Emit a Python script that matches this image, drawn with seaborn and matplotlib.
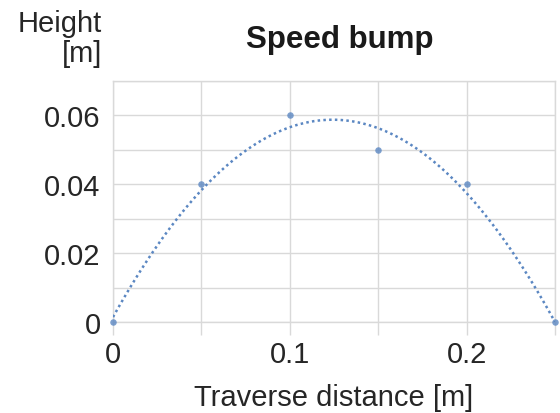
import matplotlib
matplotlib.use("Agg")
import matplotlib.pyplot as plt
import seaborn as sns
import numpy as np
import pandas as pd
from matplotlib.ticker import MultipleLocator, FixedLocator

distance = [0.0, 0.05, 0.10, 0.15, 0.20, 0.25]
height = [0.0, 0.04, 0.06, 0.05, 0.04, 0.0]
x_ticks = [0, 0.1, 0.2]
x_tick_labels = ["0", "0.1", "0.2"]
y_ticks = [0, 0.02, 0.04, 0.06]
y_tick_labels = ["0", "0.02", "0.04", "0.06"]

sns.set_theme(style="white")
plt.rcParams['font.family'] = ['Liberation Sans', 'DejaVu Sans']

df = pd.DataFrame({"distance": distance, "height": height})

fig = plt.figure(figsize=(5.6, 4.14), dpi=100)
ax = fig.add_axes([113/560, 1-323/414, (555-113)/560, (323-82)/414])

color = "#5b87c2"
grid_c = "#d9d9d9"

sns.regplot(data=df, x="distance", y="height", order=2, ci=None, ax=ax,
            scatter_kws=dict(s=22, color=color, clip_on=False, zorder=4, linewidths=0),
            line_kws=dict(color=color, linestyle=(0, (1, 1.3)), linewidth=1.8, zorder=3))

ax.set_xlim(0, 0.25)
ax.set_ylim(0, 0.07)
ax.xaxis.set_major_locator(FixedLocator(x_ticks))
ax.set_xticklabels(x_tick_labels)
ax.xaxis.set_minor_locator(MultipleLocator(0.05))
ax.yaxis.set_major_locator(FixedLocator(y_ticks))
ax.set_yticklabels(y_tick_labels)
ax.yaxis.set_minor_locator(MultipleLocator(0.01))

ax.grid(True, which="both", color=grid_c, linewidth=1.0)
for s in ax.spines.values():
    s.set_color(grid_c)
    s.set_linewidth(1.0)

ax.tick_params(axis="x", which="both", length=9, width=1.0, color=grid_c,
               labelsize=21, pad=4, labelcolor="#262626", direction="out", bottom=True)
ax.tick_params(axis="y", which="both", length=0, labelsize=21, pad=9, labelcolor="#262626")

ax.set_xlabel("Traverse distance [m]", fontsize=21, color="#262626", labelpad=11)
ax.set_ylabel("")

fig.text(340/560, 1-48/414, "Speed bump", fontsize=22.5, fontweight="bold",
         ha="center", va="baseline", color="#1a1a1a")
fig.text(102/560, 1-10/414, "Height\n[m]", fontsize=21, ha="right", va="top",
         multialignment="right", color="#262626", linespacing=1.1)

fig.savefig("out.png", dpi=100)
